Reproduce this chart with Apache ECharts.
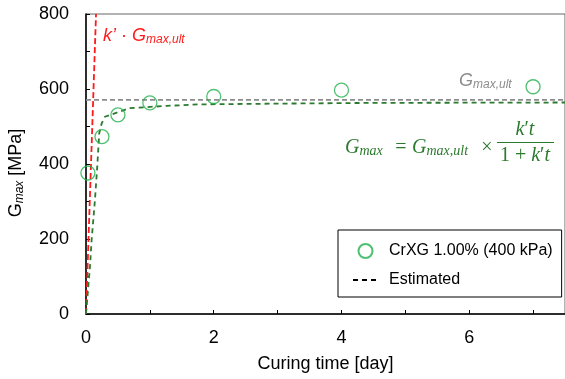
<!DOCTYPE html>
<html>
<head>
<meta charset="utf-8">
<script src="https://cdn.jsdelivr.net/npm/echarts@6/dist/echarts.min.js"></script>
<style>
  html, body { margin: 0; padding: 0; background: #fff; }
  #main { width: 565px; height: 379px; }
</style>
</head>
<body>
<div id="main"></div>
<script>
// measured points (curing time [day], Gmax [MPa])
var measTime = [0.03, 0.25, 0.5, 1, 2, 4, 7];
var measG = [376, 473, 531, 563, 580, 597, 606];

// estimated curve
var estTime = [0, 0.062, 0.088, 0.14, 0.176, 0.207, 0.245, 0.296, 0.685, 1.26, 1.78, 3, 4.5, 7.5];
var estG = [0, 126, 197, 304, 393, 482, 508, 526, 549, 555, 559, 561, 563, 564];

// Gmax,ult level and initial slope line
var ultTime = [0, 7.5];
var ultG = [571, 571];
var slopeTime = [0, 0.157];
var slopeG = [0, 800];

var xTicks = [0, 2, 4, 6];

function pairs(xs, ys) {
    return xs.map(function (x, i) { return [x, ys[i]]; });
}

var green = '#23b04d';
var darkGreen = '#2b7a2e';
var red = '#ff1a1a';
var grey = '#8c8c8c';
var font = 'Liberation Sans, Arial, sans-serif';
var mathFont = 'Liberation Serif, DejaVu Serif, serif';

var chartDom = document.getElementById('main');
var myChart = echarts.init(chartDom);

// rich text pieces for graphic labels (zrender uses fill, not color)
function big(color, italic, family, size) {
    return { fontFamily: family || font, fontStyle: italic ? 'italic' : 'normal', fontSize: size || 18, fill: color, lineHeight: 20 };
}
function sub(color, family, size) {
    return { fontFamily: family || font, fontStyle: 'italic', fontSize: size || 12, fill: color, lineHeight: 12, verticalAlign: 'bottom' };
}
function label(x, y, text, rich, extra) {
    var st = { text: text, verticalAlign: 'middle', rich: rich };
    for (var k in extra) st[k] = extra[k];
    return { type: 'text', x: x, y: y, style: st };
}

var option = {
    animation: false,
    backgroundColor: '#fff',
    grid: {
        left: 86, right: 0, top: 14, bottom: 65,
        show: true, borderColor: '#666', borderWidth: 1
    },
    legend: {
        orient: 'vertical',
        left: 338, top: 230,
        padding: [13, 9, 9, 14],
        itemWidth: 25, itemHeight: 14, itemGap: 13,
        backgroundColor: '#fff',
        borderColor: '#000', borderWidth: 1, borderRadius: 0,
        textStyle: { fontFamily: font, fontSize: 16, color: '#000', padding: [0, 0, 0, 6] },
        data: [
            'CrXG 1.00% (400 kPa)',
            { name: 'Estimated', itemStyle: { opacity: 0 } }
        ]
    },
    xAxis: {
        type: 'value', min: 0, max: 7.5, interval: 2,
        name: 'Curing time [day]', nameLocation: 'middle', nameGap: 41,
        nameTextStyle: { fontFamily: font, fontSize: 18, color: '#000' },
        axisLine: { lineStyle: { color: '#000', width: 1.5 } },
        axisTick: { inside: true, length: 4, lineStyle: { color: '#000' } },
        minorTick: { show: true, splitNumber: 2, length: 4, lineStyle: { color: '#000' } },
        axisLabel: {
            fontFamily: font, fontSize: 18, color: '#000', margin: 15, showMaxLabel: false,
            formatter: function (v) { return xTicks.indexOf(v) >= 0 ? String(v) : ''; }
        },
        splitLine: { show: false }
    },
    yAxis: {
        type: 'value', min: 0, max: 800, interval: 200,
        axisLine: { show: true, lineStyle: { color: '#000', width: 1.5 } },
        axisTick: { show: true, inside: true, length: 4, lineStyle: { color: '#000' } },
        minorTick: { show: true, splitNumber: 2, length: 4, lineStyle: { color: '#000' } },
        axisLabel: { fontFamily: font, fontSize: 18, color: '#000', margin: 17 },
        splitLine: { show: false }
    },
    series: [
        {
            name: 'ult', type: 'line', data: pairs(ultTime, ultG),
            symbol: 'none', silent: true,
            lineStyle: { color: grey, width: 1.6, type: [5, 3] }
        },
        {
            name: 'slope', type: 'line', data: pairs(slopeTime, slopeG),
            symbol: 'none', silent: true,
            lineStyle: { color: red, width: 1.8, type: [6, 3] }
        },
        {
            name: 'curve', type: 'line', data: pairs(estTime, estG),
            symbol: 'none', silent: true,
            lineStyle: { color: darkGreen, width: 1.8, type: [5, 4] }
        },
        {
            name: 'Estimated', type: 'line', data: [],
            symbol: 'none',
            itemStyle: { color: '#000' },
            lineStyle: { color: '#000', width: 1.2, type: [5, 4] }
        },
        {
            name: 'CrXG 1.00% (400 kPa)', type: 'scatter', data: pairs(measTime, measG),
            symbol: 'circle', symbolSize: 14, z: 5,
            itemStyle: { color: 'rgba(255,255,255,0)', borderColor: green, borderWidth: 1.3 }
        }
    ],
    graphic: [
        // y axis name
        label(16, 173, '{g|G}{s|max}{g| [MPa]}',
            { g: big('#000'), s: sub('#000') },
            { align: 'center' }),
        label(103, 36, '{k|k’ · G}{s|max,ult}',
            { k: big(red, true), s: sub(red) }),
        label(459, 81, '{g|G}{s|max,ult}',
            { g: big(grey, true), s: sub(grey) }),
        // formula
        label(345, 148, '{i|G}{s|max}',
            { i: big(darkGreen, true, mathFont, 20), s: sub(darkGreen, mathFont, 14) }),
        label(401, 148, '{n|=}',
            { n: big(darkGreen, false, mathFont, 20) }, { align: 'center' }),
        label(412, 148, '{i|G}{s|max,ult}',
            { i: big(darkGreen, true, mathFont, 20), s: sub(darkGreen, mathFont, 14) }),
        label(487, 148, '{n|×}',
            { n: big(darkGreen, false, mathFont, 20) }, { align: 'center' }),
        label(525, 130, '{i|k}{n|′}{i|t}',
            { i: big(darkGreen, true, mathFont, 20), n: big(darkGreen, false, mathFont, 20) },
            { align: 'center' }),
        {
            type: 'line', shape: { x1: 497, y1: 142.5, x2: 554, y2: 142.5 },
            style: { stroke: darkGreen, lineWidth: 1.2 }
        },
        label(525, 156, '{n|1 + }{i|k}{n|′}{i|t}',
            { i: big(darkGreen, true, mathFont, 20), n: big(darkGreen, false, mathFont, 20) },
            { align: 'center' })
    ]
};

// rotate the y axis name
option.graphic[0].rotation = Math.PI / 2;

option && myChart.setOption(option);
</script>
</body>
</html>
